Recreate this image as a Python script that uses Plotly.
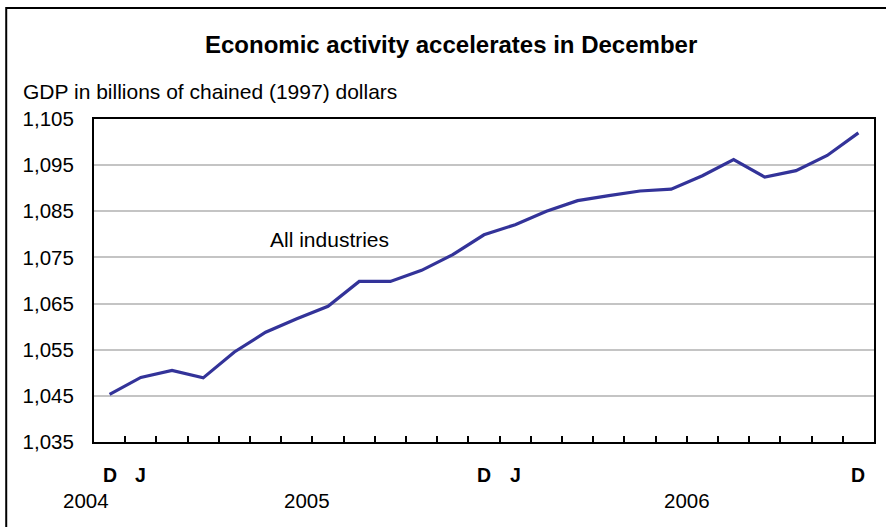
import plotly.graph_objects as go

months = ["Dec 2004", "Jan 2005", "Feb 2005", "Mar 2005", "Apr 2005", "May 2005", "Jun 2005",
          "Jul 2005", "Aug 2005", "Sep 2005", "Oct 2005", "Nov 2005", "Dec 2005",
          "Jan 2006", "Feb 2006", "Mar 2006", "Apr 2006", "May 2006", "Jun 2006",
          "Jul 2006", "Aug 2006", "Sep 2006", "Oct 2006", "Nov 2006", "Dec 2006"]
gdp = [1045.3, 1049.0, 1050.5, 1048.9, 1054.5, 1058.8, 1061.7, 1064.4, 1069.8, 1069.8,
       1072.2, 1075.6, 1079.9, 1082.1, 1085.0, 1087.3, 1088.4, 1089.4, 1089.8, 1092.7,
       1096.2, 1092.4, 1093.8, 1097.1, 1102.0]
month_letters = [("Dec 2004", "D"), ("Jan 2005", "J"), ("Dec 2005", "D"), ("Jan 2006", "J"), ("Dec 2006", "D")]
year_labels = [(-0.77, "2004"), (6.33, "2005"), (18.52, "2006")]
y_ticks = [1035, 1045, 1055, 1065, 1075, 1085, 1095, 1105]

FONT = "Liberation Sans, Arial, sans-serif"

fig = go.Figure()
fig.add_trace(go.Scatter(x=months, y=gdp, mode="lines",
                         line=dict(color="#333399", width=3.2), showlegend=False))

fig.update_layout(
    width=886, height=527,
    margin=dict(l=94, r=10, t=119, b=85),
    paper_bgcolor="white", plot_bgcolor="white",
    font=dict(family=FONT, color="black"),
    showlegend=False,
)
fig.update_xaxes(type="category", tickson="boundaries", ticks="inside", ticklen=6,
                 tickcolor="black", tickwidth=1.5, showticklabels=False,
                 showgrid=False, showline=True, linecolor="black", linewidth=2,
                 mirror=True, range=[-0.5, len(months) - 0.5])
fig.update_yaxes(range=[1035, 1105], tickvals=y_ticks,
                 ticktext=[f"{v:,}" for v in y_ticks], ticks="",
                 tickfont=dict(size=20.5, family=FONT), ticklabelstandoff=14,
                 showgrid=True, gridcolor="#c4c4c4", gridwidth=2,
                 showline=True, linecolor="black", linewidth=2, mirror=True, zeroline=False)

ann = []
ann.append(dict(text="<b>Economic activity accelerates in December</b>", xref="paper", yref="paper",
                x=(452 - 94) / 782, y=(442 - 44) / 323, showarrow=False,
                font=dict(size=24, family=FONT), xanchor="center", yanchor="middle"))
ann.append(dict(text="GDP in billions of chained (1997) dollars", xref="paper", yref="paper",
                x=(21 - 94) / 782, y=(442 - 92) / 323, showarrow=False,
                font=dict(size=21, family=FONT), xanchor="left", yanchor="middle"))
ann.append(dict(text="All industries", xref="x", yref="y", x=7.04, y=1078.8, showarrow=False,
                font=dict(size=21, family=FONT), xanchor="center", yanchor="middle"))
for m, letter in month_letters:
    ann.append(dict(text=f"<b>{letter}</b>", xref="x", yref="paper", x=m, y=(442 - 475) / 323,
                    showarrow=False, font=dict(size=19.5, family=FONT),
                    xanchor="center", yanchor="middle"))
n = len(months)
for pos, yr in year_labels:
    ann.append(dict(text=yr, xref="paper", yref="paper", x=(pos + 0.5) / n, y=(442 - 501) / 323,
                    showarrow=False, font=dict(size=20.5, family=FONT),
                    xanchor="center", yanchor="middle"))
fig.update_layout(annotations=ann)

fig.add_shape(type="rect", xref="paper", yref="paper",
              x0=(6 - 94) / 782, x1=(892 - 94) / 782, y0=(442 - 540) / 323, y1=(442 - 8) / 323,
              line=dict(color="black", width=2), fillcolor="rgba(0,0,0,0)", layer="below")

fig.write_html("out.html", config={"displayModeBar": False},
               post_script="document.body.style.margin='0';document.body.style.overflow='hidden';")
